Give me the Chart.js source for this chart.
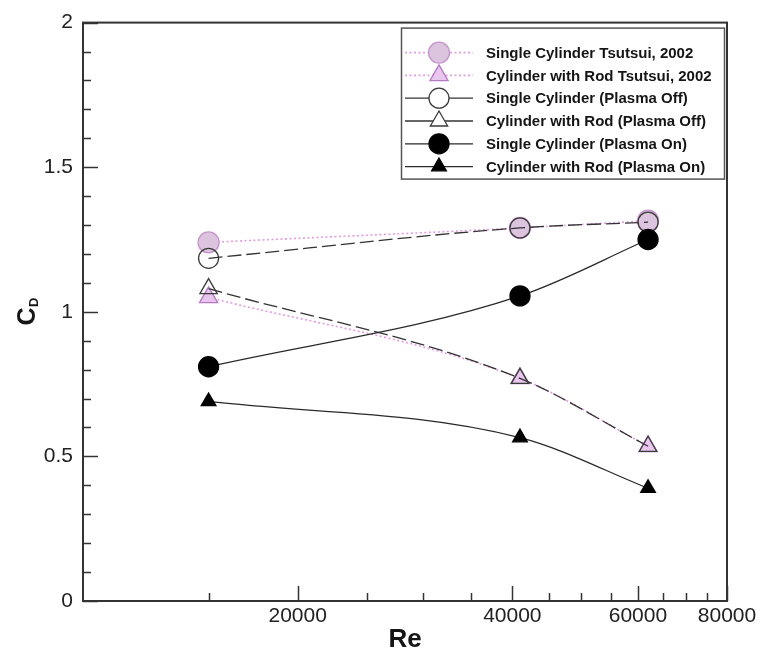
<!DOCTYPE html>
<html>
<head>
<meta charset="utf-8">
<script src="https://cdn.jsdelivr.net/npm/chart.js@4/dist/chart.umd.min.js"></script>
<style>
html,body{margin:0;padding:0;background:#fff;}
#wrap{width:760px;height:655px;}
canvas{display:block;}
</style>
</head>
<body>
<div id="wrap"><canvas id="c" width="760" height="655"></canvas></div>
<script>
// ---- data ----
const reynolds = [15000, 41000, 62000];
const singleTsutsui = [1.24, 1.29, 1.315];
const rodTsutsui = [1.05, 0.77, 0.535];
const singlePlasmaOff = [1.185, 1.29, 1.31];
const rodPlasmaOff = [1.08, 0.77, 0.535];
const singlePlasmaOn = [0.81, 1.055, 1.25];
const rodPlasmaOn = [0.69, 0.565, 0.39];
const seriesNames = [
  'Single Cylinder Tsutsui, 2002',
  'Cylinder with Rod Tsutsui, 2002',
  'Single Cylinder (Plasma Off)',
  'Cylinder with Rod (Plasma Off)',
  'Single Cylinder (Plasma On)',
  'Cylinder with Rod (Plasma On)'
];
const xMajorTicks = [20000, 40000, 60000, 80000];
const xMinorTicks = [15000, 25000, 30000, 35000, 45000, 50000, 55000, 65000, 70000, 75000];
const yMajorTicks = [0, 0.5, 1, 1.5, 2];
const yTickLabels = ['0', '0.5', '1', '1.5', '2'];
const yMinorTicks = [0.1, 0.2, 0.3, 0.4, 0.6, 0.7, 0.8, 0.9, 1.1, 1.2, 1.3, 1.4, 1.6, 1.7, 1.8, 1.9];
const xTitle = 'Re';
const yTitleMain = 'C';
const yTitleSub = 'D';

const FONT = '"Liberation Sans", Arial, Helvetica, sans-serif';
const AXIS = '#333333';

function pts(ys) { return reynolds.map((x, i) => ({ x: x, y: ys[i] })); }

const styles = [
  { values: singleTsutsui, pointStyle: 'circle', r: 10.5, fill: '#dcc4df', stroke: '#c596cc', line: '#e39be3', lw: 1.6, dash: [2, 2.5], legendDash: [2, 2.5], order: 3 },
  { values: rodTsutsui, pointStyle: 'triangle', r: 10.5, fill: '#e9c6ee', stroke: '#b57ac2', line: '#e39be3', lw: 1.6, dash: [2, 2.5], legendDash: [2, 2.5], order: 2 },
  { values: singlePlasmaOff, pointStyle: 'circle', r: 10, fill: 'rgba(255,255,255,0)', stroke: '#3a3a3a', line: '#333333', lw: 1.3, dash: [14, 5], legendDash: [], order: 1 },
  { values: rodPlasmaOff, pointStyle: 'triangle', r: 10, fill: 'rgba(255,255,255,0)', stroke: '#3a3a3a', line: '#333333', lw: 1.3, dash: [14, 5], legendDash: [], order: 1 },
  { values: singlePlasmaOn, pointStyle: 'circle', r: 10, fill: '#000000', stroke: '#000000', line: '#2a2a2a', lw: 1.3, dash: [], legendDash: [], order: 0 },
  { values: rodPlasmaOn, pointStyle: 'triangle', r: 8.5, fill: '#000000', stroke: '#000000', line: '#2a2a2a', lw: 1.3, dash: [], legendDash: [], order: 0 }
];

const datasets = styles.map((s, i) => ({
  label: seriesNames[i],
  data: pts(s.values),
  order: s.order,
  showLine: true,
  fill: false,
  cubicInterpolationMode: 'monotone',
  borderColor: s.line,
  borderWidth: s.lw,
  borderDash: s.dash,
  pointStyle: s.pointStyle,
  pointRadius: s.r,
  pointHoverRadius: s.r,
  pointBackgroundColor: s.fill,
  pointBorderColor: s.stroke,
  pointBorderWidth: 1.3,
  pointHoverBorderWidth: 1.3
}));

function drawMarker(ctx, style, x, y, r, fill, stroke) {
  ctx.save();
  ctx.beginPath();
  if (style === 'circle') {
    ctx.arc(x, y, r, 0, Math.PI * 2);
  } else {
    let rad = 0;
    ctx.moveTo(x + Math.sin(rad) * r, y - Math.cos(rad) * r);
    rad += Math.PI * 2 / 3;
    ctx.lineTo(x + Math.sin(rad) * r, y - Math.cos(rad) * r);
    rad += Math.PI * 2 / 3;
    ctx.lineTo(x + Math.sin(rad) * r, y - Math.cos(rad) * r);
    ctx.closePath();
  }
  ctx.fillStyle = fill;
  ctx.fill();
  ctx.lineWidth = 1.3;
  ctx.strokeStyle = stroke;
  ctx.stroke();
  ctx.restore();
}

const framePlugin = {
  id: 'frameTicksLegend',
  afterDraw(chart) {
    const ctx = chart.ctx;
    const a = chart.chartArea;
    const xs = chart.scales.x, ys = chart.scales.y;
    ctx.save();
    // inward tick marks
    ctx.strokeStyle = AXIS;
    ctx.lineWidth = 1.5;
    ctx.setLineDash([]);
    const seg = (x1, y1, x2, y2) => { ctx.beginPath(); ctx.moveTo(x1, y1); ctx.lineTo(x2, y2); ctx.stroke(); };
    xMajorTicks.forEach(v => { const p = Math.round(xs.getPixelForValue(v)) + 0.5; seg(p, a.bottom, p, a.bottom - 15); });
    xMinorTicks.forEach(v => { const p = Math.round(xs.getPixelForValue(v)) + 0.5; seg(p, a.bottom, p, a.bottom - 8); });
    yMajorTicks.forEach(v => { const p = Math.round(ys.getPixelForValue(v)) + 0.5; seg(a.left, p, a.left + 15, p); });
    yMinorTicks.forEach(v => { const p = Math.round(ys.getPixelForValue(v)) + 0.5; seg(a.left, p, a.left + 8, p); });
    // frame
    ctx.lineWidth = 2;
    ctx.strokeRect(a.left, a.top, a.right - a.left, a.bottom - a.top);

    // legend
    const lx = a.right - 326, ly = a.top + 5, lw = 323, lh = 151;
    ctx.fillStyle = '#ffffff';
    ctx.fillRect(lx, ly, lw, lh);
    ctx.strokeStyle = '#555555';
    ctx.lineWidth = 1.5;
    ctx.strokeRect(lx + 0.5, ly + 0.5, lw, lh);
    ctx.font = 'bold 15px ' + FONT;
    ctx.textBaseline = 'middle';
    ctx.textAlign = 'left';
    chart.data.datasets.forEach((ds, i) => {
      const s = styles[i];
      const ry = ly + 25 + i * 22.8;
      ctx.strokeStyle = s.line;
      ctx.lineWidth = s.lw;
      ctx.setLineDash(s.legendDash);
      ctx.beginPath(); ctx.moveTo(lx + 4, ry); ctx.lineTo(lx + 72, ry); ctx.stroke();
      ctx.setLineDash([]);
      drawMarker(ctx, s.pointStyle, lx + 38, ry, s.r, s.fill === 'rgba(255,255,255,0)' ? '#ffffff' : s.fill, s.stroke);
      ctx.fillStyle = '#151515';
      ctx.fillText(ds.label, lx + 85, ry + 1);
    });

    // y axis title C_D (rotated)
    const cy = (a.top + a.bottom) / 2;
    ctx.fillStyle = '#151515';
    ctx.save();
    ctx.font = 'bold 25px ' + FONT;
    const wC = ctx.measureText(yTitleMain).width;
    ctx.font = 'bold 13px ' + FONT;
    const wD = ctx.measureText(yTitleSub).width;
    ctx.translate(35, cy + (wC + wD) / 2);
    ctx.rotate(-Math.PI / 2);
    ctx.textBaseline = 'alphabetic';
    ctx.font = 'bold 25px ' + FONT;
    ctx.fillText(yTitleMain, 0, 0);
    ctx.font = 'bold 13px ' + FONT;
    ctx.fillText(yTitleSub, wC + 0.5, 3);
    ctx.restore();
    ctx.restore();
  }
};

new Chart(document.getElementById('c'), {
  type: 'line',
  data: { datasets: datasets },
  options: {
    responsive: false,
    animation: false,
    events: [],
    devicePixelRatio: 1,
    layout: { padding: { top: 13, right: 33, left: 0, bottom: 0 } },
    plugins: { legend: { display: false }, tooltip: { enabled: false } },
    scales: {
      x: {
        type: 'logarithmic',
        min: 10000,
        max: 80000,
        afterBuildTicks: (s) => { s.ticks = xMinorTicks.concat(xMajorTicks).sort((p, q) => p - q).map(v => ({ value: v })); },
        afterFit: (s) => { s.height = 54; },
        grid: { display: false, drawTicks: false },
        border: { display: false },
        ticks: {
          autoSkip: false,
          maxRotation: 0,
          minRotation: 0,
          padding: 3,
          color: '#222222',
          font: { family: FONT, size: 21 },
          callback: (v) => xMajorTicks.includes(v) ? String(v) : ''
        },
        title: {
          display: true,
          text: xTitle,
          color: '#151515',
          font: { family: FONT, size: 26, weight: 'bold', lineHeight: 1 },
          padding: { top: 0, bottom: 2 }
        }
      },
      y: {
        type: 'linear',
        min: 0,
        max: 2,
        afterBuildTicks: (s) => { s.ticks = yMajorTicks.map(v => ({ value: v })); },
        afterFit: (s) => { s.width = 83; },
        grid: { display: false, drawTicks: false },
        border: { display: false },
        ticks: {
          padding: 10,
          color: '#222222',
          font: { family: FONT, size: 21 },
          callback: (v) => { const k = yMajorTicks.indexOf(v); return k >= 0 ? yTickLabels[k] : ''; }
        }
      }
    }
  },
  plugins: [framePlugin]
});
</script>
</body>
</html>
